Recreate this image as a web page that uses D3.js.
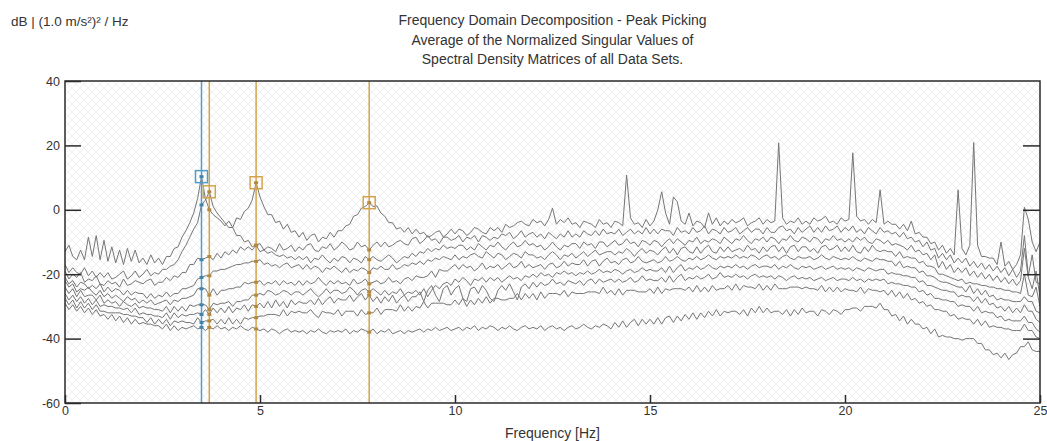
<!DOCTYPE html>
<html>
<head>
<meta charset="utf-8">
<script src="https://cdn.jsdelivr.net/npm/d3@7"></script>
<style>
  body { margin: 0; background: #fff; }
  svg text { font-family: "Liberation Sans", Arial, sans-serif; fill: #333; }
</style>
</head>
<body>
<svg id="chart" width="1047" height="441"></svg>
<script>
// Frequency resolution of the spectra (Hz between samples, starting at 0 Hz)
const freqStep = 0.1;

// Normalized singular values (dB), one array per singular value, 0 .. 25 Hz
const sv1 = [
  -13, -11, -14.5, -15.5, -12.5, -15.5, -8.5, -14.5, -8, -15.5,
  -9.5, -16, -11.5, -16.5, -12.5, -17, -12, -16, -12.5, -16.5,
  -15, -17, -14, -16.5, -15, -17, -14.5, -14.5, -12, -11.5,
  -8.5, -6.5, -4, -1, 3.5, 10.3, 3.5, 0, -1.5, -2.5,
  -3.5, -5, -3.5, -5.5, -2.5, -3, -0.5, 0.5, 3, 8.4,
  4, 1, -1.5, -1.5, -4, -3.5, -6, -4.5, -7, -6.5,
  -8.5, -7, -9.5, -8, -7.5, -10, -8.5, -9, -7, -8.5,
  -6.5, -6.5, -5, -4.5, -2, -1.5, 0.5, 1, 2.2, 1,
  1.2, -1, -2, -4, -4, -6, -5.5, -7, -5.5, -7.5,
  -6, -7.5, -7, -8.5, -8, -7, -6.5, -8.5, -7.5, -6,
  -7.5, -6, -6.5, -8, -7, -5.5, -6, -7, -7.5, -5.5,
  -6.5, -5.5, -7, -4.5, -5.5, -5, -4, -3.5, -4.5, -5,
  -3, -4, -3.5, -5, -3, 0.5, -4.5, -3, -4, -2.5,
  -4.5, -4, -5.5, -3.5, -4, -4.5, -5.5, -3, -4.5, -4,
  -5.5, -3.5, -4, -5, 10.8, -2.5, -4.5, -4, -5.5, -3,
  -5, -3.5, 0, 5.6, -1, -4.5, 4, 2.5, -3.5, -4.5,
  -1, -5, -3.5, -4, -5.5, -1, -4.5, -2.5, -5, -3.5,
  -4.5, -3, -4, -3.5, -2.5, -5, -4, -3.5, -2.5, -4.5,
  -3, -4, -3.5, 20.8, -2.5, -4.5, -3.5, -4, -2.5, -4.5,
  -3.5, -4.5, -2.5, -3.5, -3, -2, -4, -3.5, -4.5, -2.5,
  -3.5, -3, 17.7, -2, -3.5, -3, -4.5, -3, -4, 6.2,
  -4.5, -3.5, -4.5, -4.5, -6, -4.5, -6.5, -3.5, -7.5, -7,
  -8.5, -8.5, -10.5, -10, -12.5, -11, -13.5, -12, -14, 6.2,
  -12, -14, -11, 20.9, -11, -14.5, -14.5, -15, -15, -17,
  -10, -17.5, -16, -18.5, -17, -14, 0.8, -3, -10, -13,
  -10
];
const sv2 = [
  -17, -19.5, -18, -19.5, -20, -18, -20.5, -19, -21, -19.5,
  -21, -19.5, -21.5, -21, -20, -19, -21.5, -20.5, -19, -21,
  -20, -18.5, -20.5, -19.5, -20, -18.5, -18.5, -17.5, -17, -15.5,
  -13, -11, -8.5, -6, -4, 1.5, 3, 5.6, 1, -1,
  -2.5, -4, -5.5, -5.5, -8, -8, -10, -9.5, -11.5, -11,
  -10.5, -12.5, -11.5, -12, -13, -10.5, -12.5, -12, -11, -13,
  -11.5, -12.5, -11, -10.5, -12.5, -13, -11.5, -12, -10.5, -12.5,
  -11.5, -10, -11, -12.5, -12, -10, -11.5, -11, -12.5, -11,
  -10, -11.5, -10, -11.5, -11, -10, -9.5, -10.5, -11, -9,
  -8.5, -10.5, -9.5, -8, -9.5, -9, -10.5, -8.5, -8.5, -9.5,
  -9, -8, -10, -8.5, -9, -8, -10, -8, -8.5, -9.5,
  -8.5, -9, -7.5, -8, -7, -9, -8, -6.5, -8.5, -7.5,
  -7, -8.5, -7.5, -9, -7, -8, -9, -7.5, -8.5, -6.5,
  -8.5, -7.5, -8.5, -6.5, -7.5, -8, -6.5, -8, -6, -7.5,
  -7, -7.5, -6, -8, -7, -6, -7.5, -6.5, -7.5, -5.5,
  -7.5, -6, -7.5, -6, -6.5, -6.5, -8, -5.5, -7, -6.5,
  -7.5, -5.5, -7, -6.5, -5, -7.5, -6, -6.5, -7.5, -5.5,
  -7, -6.5, -5.5, -7.5, -6.5, -5.5, -7, -6, -6, -7.5,
  -5.5, -7, -7, -5.5, -5, -6.5, -6, -7.5, -5.5, -7,
  -6, -5, -7, -5.5, -7, -5, -6.5, -6, -5, -7,
  -5.5, -6.5, -5, -7, -6, -7.5, -5.5, -6.5, -7.5, -5.5,
  -7, -6.5, -7.5, -7, -8.5, -7, -9, -8.5, -10, -9.5,
  -11.5, -10, -12.5, -12, -15, -13.5, -15.5, -14, -16.5, -15,
  -16.5, -15, -17.5, -16, -18, -16.5, -18.5, -17, -19, -17.5,
  -19.5, -18, -20.5, -18.5, -21, -19, -8, -20.5, -14, -22.5,
  -23
];
const sv3 = [
  -19, -21.5, -20, -21, -19.5, -22.5, -21.5, -22, -20.5, -23,
  -23.5, -22, -23, -22.5, -24, -21.5, -23.5, -23, -22, -22.5,
  -23, -22, -21.5, -23.5, -22.5, -22.5, -21, -22, -20.5, -21,
  -19.5, -19.5, -17, -17, -15, -15.5, -15, -14.5, -15.5, -13.5,
  -15, -13, -14, -12.5, -13.5, -11.5, -12.5, -11.5, -12.5, -11,
  -13, -12.5, -13.5, -13, -14, -14.5, -14, -15, -14.5, -15.5,
  -14.5, -15.5, -14.5, -16.5, -15, -15.5, -14, -15.5, -16.5, -15,
  -16, -14.5, -15, -16.5, -15, -15.5, -16.5, -14.5, -15.5, -14.5,
  -15.5, -16, -15, -14, -15, -16.5, -15.5, -14.5, -15, -13.5,
  -14.5, -13, -13.5, -12, -13, -12, -12.5, -11, -12, -11.5,
  -12, -11, -11, -12.5, -11.5, -12.5, -10.5, -11.5, -12.5, -11,
  -11.5, -10, -11.5, -12.5, -11, -10, -11.5, -11, -9.5, -11,
  -10.5, -11.5, -11, -12.5, -11.5, -10, -11.5, -12.5, -11, -11.5,
  -10.5, -10.5, -12, -10, -11, -10.5, -12, -10, -10, -11.5,
  -10.5, -9.5, -11, -10.5, -9, -10.5, -10, -11.5, -9.5, -10,
  -11, -9.5, -10, -11.5, -10, -9, -10.5, -9, -10, -11,
  -9.5, -10, -8.5, -10.5, -9.5, -10, -9, -9.5, -10.5, -8.5,
  -9.5, -10.5, -9, -9.5, -8, -9.5, -10.5, -9, -9.5, -8.5,
  -10, -8.5, -9, -10.5, -9, -9.5, -8, -9.5, -10, -8.5,
  -9, -10, -8.5, -9, -10.5, -9, -9.5, -8, -9.5, -9,
  -10, -9, -10, -8.5, -9.5, -8.5, -10, -10.5, -9, -9.5,
  -10.5, -9.5, -11, -10.5, -11, -11.5, -12.5, -11, -13, -12.5,
  -14, -13.5, -15.5, -14, -18, -16, -18.5, -17, -19.5, -18,
  -19.5, -18, -20.5, -19, -21, -19.5, -21.5, -20, -22, -20.5,
  -22.5, -21, -23, -21.5, -23.5, -22, -12, -21, -24.5, -19,
  -27
];
const sv4 = [
  -21, -23, -22, -24, -22.5, -23, -24.5, -23.5, -24.5, -23,
  -25.5, -24, -25.5, -24.5, -25, -26.5, -25, -26.5, -25.5, -26,
  -26, -27.5, -26, -27.5, -26.5, -27, -25.5, -27, -26, -26,
  -24.5, -24.5, -24, -23.5, -21.5, -21, -20.5, -20.5, -19, -19,
  -18.5, -18.5, -18, -17.5, -17, -17, -16.5, -16.5, -16, -16,
  -15.5, -17, -16.5, -17.5, -17, -18, -17, -16.5, -18, -17.5,
  -17, -18.5, -17, -18.5, -17.5, -18, -19.5, -18, -18.5, -17.5,
  -18.5, -19.5, -18, -19.5, -18.5, -19, -18, -18.5, -19.5, -18,
  -18.5, -17.5, -18.5, -18.5, -17, -18.5, -18, -17, -17.5, -16.5,
  -17, -16, -17, -15.5, -16, -15, -15.5, -14.5, -15, -15.5,
  -14, -15.5, -14.5, -15, -14, -13.5, -14.5, -15, -13, -14,
  -15, -13.5, -14, -15.5, -14.5, -13.5, -14, -15, -13, -14,
  -14, -15, -14.5, -15.5, -14, -13, -14, -15.5, -14, -14.5,
  -13.5, -15, -14, -13, -14.5, -13.5, -12.5, -14, -13.5, -13,
  -13, -14, -13, -13.5, -12, -13, -14.5, -13, -12, -13.5,
  -12.5, -13, -14, -12.5, -11.5, -13.5, -12, -14, -12, -11.5,
  -13, -13.5, -11.5, -13.5, -12, -11, -13, -13.5, -11.5, -13,
  -11.5, -13, -12.5, -12, -13, -11, -12.5, -12, -13.5, -11.5,
  -13, -11.5, -11, -13, -11.5, -13.5, -11.5, -11, -13, -11.5,
  -11.5, -13, -12, -13.5, -11.5, -11, -12.5, -12, -11, -13,
  -11.5, -13, -11, -13, -13.5, -11.5, -13, -11, -12.5, -13,
  -12.5, -13, -13, -14.5, -13, -15, -14.5, -15, -15, -16.5,
  -16, -17.5, -17.5, -18, -20, -20, -20.5, -21, -21.5, -22,
  -21.5, -23, -22.5, -23, -23, -23.5, -23.5, -24, -24, -24.5,
  -24.5, -25, -25, -25.5, -25.5, -26, -20, -26.5, -27, -24,
  -30
];
const sv5 = [
  -22, -24, -23, -25.5, -24.5, -25, -24, -25.5, -26.5, -25,
  -27, -26, -27.5, -26.5, -27.5, -28.5, -27, -28, -27.5, -29,
  -28, -29, -28, -29.5, -29, -28.5, -28, -29.5, -28, -28.5,
  -27.5, -27.5, -27, -26.5, -24.5, -24.5, -24.5, -26.5, -24.5, -26.5,
  -25, -25, -24.5, -24.5, -24, -24, -22.5, -23, -22.5, -22.5,
  -22, -23.5, -22.5, -23, -22, -23.5, -22, -23, -22.5, -23.5,
  -22, -23.5, -22, -23, -22.5, -21, -22.5, -23.5, -22, -23,
  -22, -23, -22.5, -23.5, -21.5, -23, -22.5, -21.5, -23, -22.5,
  -22, -23, -22.5, -21, -22.5, -22, -23, -21.5, -21, -22,
  -20.5, -21, -21, -20.5, -19, -21, -18.5, -19, -19, -18,
  -17, -18.5, -17, -18, -17.5, -19, -18, -16.5, -18.5, -17.5,
  -18, -17, -18.5, -17.5, -16.5, -18, -17.5, -16, -18, -17,
  -18, -17.5, -17, -18.5, -17, -16.5, -18, -17.5, -16, -17.5,
  -16.5, -17, -17, -15.5, -17.5, -16, -15.5, -17.5, -16, -15,
  -16.5, -16, -17, -15.5, -15, -16.5, -16, -14.5, -16, -16.5,
  -16, -15.5, -16.5, -16, -14.5, -16, -15.5, -14.5, -15.5, -16,
  -15, -15.5, -14.5, -15.5, -15, -14, -15, -15.5, -14.5, -15,
  -14.5, -15, -14, -15, -14.5, -15, -14, -14.5, -15.5, -14.5,
  -14, -15, -14.5, -15.5, -14.5, -14, -15, -15.5, -14.5, -15,
  -15, -14.5, -15.5, -15, -14, -15, -15.5, -14.5, -15, -15.5,
  -15, -15.5, -14.5, -15.5, -16, -15, -15.5, -16, -15, -15.5,
  -15.5, -16, -16, -17.5, -16, -18, -17.5, -18, -18, -19.5,
  -19, -20.5, -20.5, -21, -22, -22.5, -22.5, -23, -23.5, -24,
  -24, -25.5, -23.5, -26, -24.5, -26.5, -25, -27, -26.5, -28,
  -27.5, -28, -28, -28.5, -28.5, -28.5, -27, -28.5, -28.5, -31.5,
  -32
];
const sv6 = [
  -24, -26, -24.5, -27, -25, -27, -26.5, -26.5, -28, -26.5,
  -29, -28, -29, -28.5, -30, -28.5, -29.5, -30, -29, -30.5,
  -30, -30.5, -30.5, -31, -31, -31.5, -30, -32, -30, -31.5,
  -30, -31.5, -29.5, -30, -29.5, -29.5, -29.5, -31, -29, -29.5,
  -29, -29, -28.5, -30, -28.5, -28.5, -28, -28, -26.5, -26.5,
  -26, -26.5, -25, -25.5, -26.5, -26, -25, -25.5, -26.5, -25.5,
  -25.5, -26.5, -25.5, -24.5, -26, -27, -26, -24.5, -26, -25,
  -25, -26, -25.5, -24, -25, -26.5, -25, -24.5, -25.5, -24.5,
  -25.5, -26.5, -25, -26.5, -25.5, -26, -24.5, -26.5, -25.5, -26,
  -25, -26.5, -24.5, -27, -25, -23.5, -24.5, -23, -22.5, -23.5,
  -21.5, -22.5, -21, -22, -23.5, -21.5, -22, -21, -22.5, -21,
  -22, -21, -22.5, -21.5, -20.5, -21.5, -21, -22, -20.5, -21,
  -20, -21, -19.5, -20.5, -20, -21, -19.5, -20, -19, -20,
  -19.5, -20.5, -19.5, -20, -19, -20, -19.5, -18.5, -19.5, -19,
  -19.5, -18.5, -19, -20, -19, -18.5, -19.5, -19, -18, -19,
  -18.5, -19, -19, -18, -19.5, -17.5, -19.5, -18, -17, -19,
  -18, -18.5, -17.5, -18.5, -18, -17, -18, -18.5, -17.5, -18,
  -17.5, -18, -17, -18, -17.5, -18.5, -17.5, -17, -18, -17.5,
  -17.5, -18, -17, -18.5, -17.5, -18, -17, -18, -18.5, -17.5,
  -18, -17.5, -18.5, -18, -17.5, -18.5, -18, -17.5, -18.5, -18,
  -18.5, -18, -19, -18, -18.5, -19, -18, -18.5, -19, -18.5,
  -18.5, -20, -19.5, -20, -20, -20.5, -20.5, -21, -21, -22.5,
  -22, -23.5, -23.5, -24, -24.5, -25, -25, -25.5, -25.5, -27,
  -26.5, -27, -27, -28.5, -27, -29, -27.5, -29.5, -29, -30.5,
  -30, -31.5, -30, -32, -30.5, -32, -29.5, -31.5, -31.5, -34,
  -35
];
const sv7 = [
  -26, -28, -26.5, -28.5, -27, -29, -27.5, -29.5, -28, -30,
  -29.5, -30, -30, -30.5, -30.5, -31, -30.5, -32, -30.5, -32.5,
  -32, -32.5, -32.5, -33, -33, -33.5, -32, -34, -32, -33.5,
  -32.5, -33, -32.5, -32.5, -32, -32.5, -31, -32.5, -30.5, -32,
  -30.5, -32, -30, -32, -30.5, -31, -29.5, -31.5, -29.5, -30,
  -29, -30.5, -28.5, -30.5, -28, -30, -28.5, -30.5, -28, -29.5,
  -28.5, -29, -29, -28, -29.5, -27.5, -29.5, -28, -27, -29,
  -27.5, -28, -28, -26.5, -28.5, -27, -26, -28, -26.5, -28.5,
  -27, -29, -27, -28.5, -26.5, -29, -27.5, -26.5, -28.5, -27,
  -27, -25.5, -28.5, -25, -23.5, -26.5, -28.5, -24.5, -23.5, -26.5,
  -24.5, -23.5, -27.5, -28.5, -24.5, -24, -26, -23.5, -25, -27.5,
  -28.5, -25, -23.5, -25, -23, -25.5, -28, -24, -23, -24.5,
  -22.5, -24, -22.5, -23.5, -23, -21.5, -23, -22.5, -23.5, -22,
  -22.5, -23, -22, -23.5, -22, -21.5, -23, -21.5, -22.5, -22,
  -21.5, -22.5, -21.5, -22.5, -22, -21, -22.5, -22, -20.5, -22,
  -21.5, -22, -22, -21, -22.5, -20.5, -22.5, -21, -20, -22,
  -21, -21.5, -20.5, -21.5, -21, -20, -21.5, -21, -19.5, -21,
  -20.5, -21, -20, -21, -20.5, -21.5, -20.5, -20, -21, -20.5,
  -21, -20.5, -21.5, -20.5, -21, -22, -21, -20.5, -21.5, -21,
  -21.5, -21, -22, -21.5, -21, -22, -21.5, -21, -22, -21.5,
  -21.5, -22, -21, -22, -21.5, -22.5, -21.5, -22, -21.5, -22,
  -21.5, -23, -22.5, -23, -23, -23.5, -23.5, -24, -24, -25.5,
  -25, -26.5, -26, -27.5, -27.5, -28, -28, -28.5, -28.5, -30,
  -29.5, -30, -30, -31.5, -30, -32, -31.5, -32, -32, -33.5,
  -33, -34.5, -34, -34.5, -34.5, -34.5, -33, -35, -35, -37,
  -38
];
const sv8 = [
  -27.5, -29.5, -28, -30.5, -28.5, -30.5, -29, -31, -29.5, -31.5,
  -31.5, -32, -32, -32, -32, -32.5, -32.5, -33, -33, -33.5,
  -33.5, -35, -33.5, -35.5, -34, -35.5, -34, -36, -34.5, -35,
  -34.5, -35, -35, -35.5, -33.5, -35, -34.5, -34.5, -34, -35.5,
  -34, -35.5, -33.5, -35.5, -34, -35.5, -33.5, -34, -33.5, -33.5,
  -33, -33, -32.5, -32.5, -32.5, -33, -31, -33, -31.5, -32,
  -31.5, -32, -32, -31, -32.5, -33.5, -31.5, -32, -32, -32.5,
  -31, -33, -31.5, -31.5, -31.5, -33, -31, -32.5, -32, -32,
  -30.5, -32.5, -31, -31, -31, -31.5, -29.5, -31.5, -30, -31.5,
  -30, -30.5, -28.5, -30.5, -29, -29, -29, -29, -29.5, -29.5,
  -28, -29.5, -27.5, -30, -28, -29.5, -27.5, -29, -27, -29,
  -27.5, -27.5, -28, -28, -27.5, -27.5, -26, -28, -26, -27.5,
  -26, -28, -25.5, -27.5, -26, -26, -26, -26.5, -25, -27,
  -25.5, -26, -26, -26, -25.5, -25.5, -25.5, -26, -24, -26,
  -25, -26.5, -24.5, -26.5, -25, -25, -25, -25.5, -25.5, -25.5,
  -24.5, -26, -24, -26, -24.5, -25, -24.5, -24.5, -24.5, -25,
  -24, -25.5, -23.5, -25.5, -24, -25.5, -23.5, -25, -24.5, -24.5,
  -23.5, -25, -23, -25, -23.5, -24, -24, -24.5, -23, -25,
  -23.5, -25, -23, -24.5, -24.5, -24.5, -24, -24, -24, -24.5,
  -24, -24.5, -24.5, -25, -23.5, -25.5, -24, -25.5, -24, -25.5,
  -24.5, -25, -25, -25.5, -24, -26, -24.5, -25, -25, -25.5,
  -25, -26.5, -25, -27, -25.5, -27.5, -26, -28, -27.5, -29,
  -28.5, -30, -29.5, -31, -31, -31.5, -31.5, -33, -32.5, -34,
  -33.5, -34, -34, -35.5, -34, -36, -34.5, -36.5, -36, -36.5,
  -36.5, -37, -37, -37.5, -37.5, -37.5, -35.5, -37.5, -37.5, -39.5,
  -40
];
const sv9 = [
  -29, -31, -29.5, -31.5, -30, -32, -30.5, -32.5, -31, -33,
  -32.5, -34, -32.5, -34.5, -33, -35, -33.5, -35.5, -34, -35.5,
  -35, -35.5, -35.5, -36, -36, -37, -35.5, -37.5, -36, -37.5,
  -36.5, -37, -36.5, -36, -37, -36.5, -37.5, -36.5, -37, -36,
  -37, -36.5, -37.5, -36.5, -37, -36, -37, -37.5, -36.5, -37,
  -37.5, -37, -38, -37, -37.5, -38.5, -37.5, -37, -38, -37.5,
  -38, -37.5, -38.5, -37.5, -38, -37, -38, -38.5, -37.5, -38,
  -37.5, -38, -37, -38.5, -37.5, -38, -37, -37.5, -38, -37,
  -38.5, -37.5, -38, -37, -38.5, -38, -37.5, -38.5, -37.5, -38,
  -37.5, -37, -38, -37, -37.5, -36.5, -37.5, -37, -36.5, -37.5,
  -37, -36.5, -37.5, -36.5, -37, -36, -37.5, -36.5, -37, -36,
  -36.5, -37.5, -36.5, -37, -36, -37, -37.5, -36.5, -36, -37,
  -36.5, -37, -36, -37.5, -36.5, -36, -37, -36.5, -37.5, -36.5,
  -36, -37, -36.5, -35.5, -36.5, -37, -36, -36.5, -35.5, -36,
  -37, -35, -36.5, -34.5, -36.5, -35, -34, -36, -34, -35.5,
  -34, -35.5, -33.5, -35.5, -33.5, -33, -35, -33, -34.5, -32.5,
  -34, -32, -34, -32, -33.5, -31.5, -33, -31, -33, -31.5,
  -32, -31.5, -31.5, -32.5, -31, -33, -30.5, -32, -30, -32,
  -30.5, -32, -31.5, -31.5, -32.5, -31, -33, -31, -32.5, -30.5,
  -32, -31.5, -31.5, -33, -31, -31.5, -32.5, -31, -31.5, -32.5,
  -31, -31, -30.5, -30.5, -31.5, -30, -30, -30, -30.5, -29,
  -31, -31, -33, -32.5, -34.5, -33, -35.5, -34, -35.5, -35.5,
  -37, -36.5, -38.5, -37, -39.5, -39, -39.5, -39.5, -40, -40,
  -40.5, -40, -40, -40, -41.5, -41.5, -43.5, -43.5, -45, -44.5,
  -46, -44.5, -46.5, -45, -44.5, -42.5, -42.5, -41, -43.5, -44,
  -44
];
const singularValues = [sv1, sv2, sv3, sv4, sv5, sv6, sv7, sv8, sv9];

// Picked peaks (Hz); the first one is the currently selected peak
const peakFreqs = [3.5, 3.7, 4.9, 7.8];
const peakSelected = [true, false, false, false];

// Axis ticks and text
const xTicks = [0, 5, 10, 15, 20, 25];
const yTicks = [40, 20, 0, -20, -40, -60];
const titleLines = [
  "Frequency Domain Decomposition - Peak Picking",
  "Average of the Normalized Singular Values of",
  "Spectral Density Matrices of all Data Sets."
];
const unitLabel = "dB | (1.0 m/s\u00B2)\u00B2 / Hz";
const xLabel = "Frequency [Hz]";

// ---- layout ----
const plot = { left: 65, right: 1040, top: 81, bottom: 403 };
const colors = { curve: "#767676", selected: "#4f9dcc", pick: "#d4a44c", frame: "#2a2a2a" };
const fontFamily = '"Liberation Sans", Arial, sans-serif';

const svg = d3.select("#chart");
const x = d3.scaleLinear().domain([0, 25]).range([plot.left, plot.right]);
const y = d3.scaleLinear().domain([-60, 40]).range([plot.bottom, plot.top]);
const freqs = d3.range(sv1.length).map(i => i * freqStep);

// Cross-hatched background of the plot area
const defs = svg.append("defs");
const pat = defs.append("pattern")
  .attr("id", "hatch").attr("patternUnits", "userSpaceOnUse")
  .attr("width", 8).attr("height", 8);
pat.append("rect").attr("width", 8).attr("height", 8).attr("fill", "#fff");
pat.append("path").attr("d", "M0,0L8,8M8,0L0,8")
  .attr("stroke", "#f0f0f0").attr("stroke-width", 1).attr("fill", "none");
defs.append("clipPath").attr("id", "plotClip").append("rect")
  .attr("x", plot.left).attr("y", plot.top)
  .attr("width", plot.right - plot.left).attr("height", plot.bottom - plot.top);

svg.append("rect")
  .attr("x", plot.left).attr("y", plot.top)
  .attr("width", plot.right - plot.left).attr("height", plot.bottom - plot.top)
  .attr("fill", "url(#hatch)");

// Singular value curves
const line = d3.line().x((d, i) => x(freqs[i])).y(d => y(d));
svg.append("g").attr("clip-path", "url(#plotClip)")
  .selectAll("path").data(singularValues).join("path")
  .attr("d", line)
  .attr("fill", "none")
  .attr("stroke", colors.curve)
  .attr("stroke-width", 1)
  .attr("stroke-linejoin", "miter");

// Peak picking lines, intersection marks and peak squares
const peaks = peakFreqs.map((f, k) => {
  const idx = Math.round(f / freqStep);
  const vals = singularValues.map(s => s[idx]);
  return { f, vals, top: d3.max(vals), color: peakSelected[k] ? colors.selected : colors.pick };
});
const pg = svg.append("g");
pg.selectAll("line").data(peaks).join("line")
  .attr("x1", d => x(d.f)).attr("x2", d => x(d.f))
  .attr("y1", plot.top).attr("y2", plot.bottom)
  .attr("stroke", d => d.color).attr("stroke-width", 1.5);
peaks.forEach(p => {
  pg.append("g").selectAll("rect").data(p.vals).join("rect")
    .attr("x", x(p.f) - 2).attr("y", v => y(v) - 1.5)
    .attr("width", 4).attr("height", 3)
    .attr("fill", d3.color(p.color).darker(0.5));
});
pg.selectAll("rect.peak").data(peaks).join("rect")
  .attr("class", "peak")
  .attr("x", d => x(d.f) - 6).attr("y", d => y(d.top) - 6)
  .attr("width", 12).attr("height", 12)
  .attr("fill", "none").attr("stroke", d => d.color).attr("stroke-width", 1.5);

// Frame
svg.append("rect")
  .attr("x", plot.left).attr("y", plot.top)
  .attr("width", plot.right - plot.left).attr("height", plot.bottom - plot.top)
  .attr("fill", "none").attr("stroke", colors.frame).attr("stroke-width", 1.5);

// Axes with inward ticks
const fmt = d => String(d);
const yAxis = svg.append("g").attr("transform", `translate(${plot.left},0)`)
  .call(d3.axisLeft(y).tickValues(yTicks).tickFormat(fmt).tickSize(-16).tickPadding(5).tickSizeOuter(0));
const yAxisR = svg.append("g").attr("transform", `translate(${plot.right},0)`)
  .call(d3.axisRight(y).tickValues(yTicks.slice(1, -1)).tickFormat("").tickSize(-17).tickSizeOuter(0));
const xAxis = svg.append("g").attr("transform", `translate(0,${plot.bottom})`)
  .call(d3.axisBottom(x).tickValues(xTicks).tickFormat(fmt).tickSize(-8).tickPadding(3).tickSizeOuter(0));
[yAxis, yAxisR, xAxis].forEach(g => {
  g.select(".domain").remove();
  g.selectAll(".tick line").attr("stroke", colors.frame).attr("stroke-width", 1.5);
  g.selectAll(".tick text").attr("font-size", 12.5).attr("fill", "#333")
    .style("font-family", fontFamily);
});

// Texts
svg.append("text").attr("x", 11).attr("y", 26).attr("font-size", 13.5).text(unitLabel);
svg.append("g").selectAll("text").data(titleLines).join("text")
  .attr("x", (plot.left + plot.right) / 2)
  .attr("y", (d, i) => 25 + i * 19.5)
  .attr("text-anchor", "middle").attr("font-size", 14).text(d => d);
svg.append("text").attr("x", (plot.left + plot.right) / 2).attr("y", 438)
  .attr("text-anchor", "middle").attr("font-size", 14).text(xLabel);
</script>
</body>
</html>
